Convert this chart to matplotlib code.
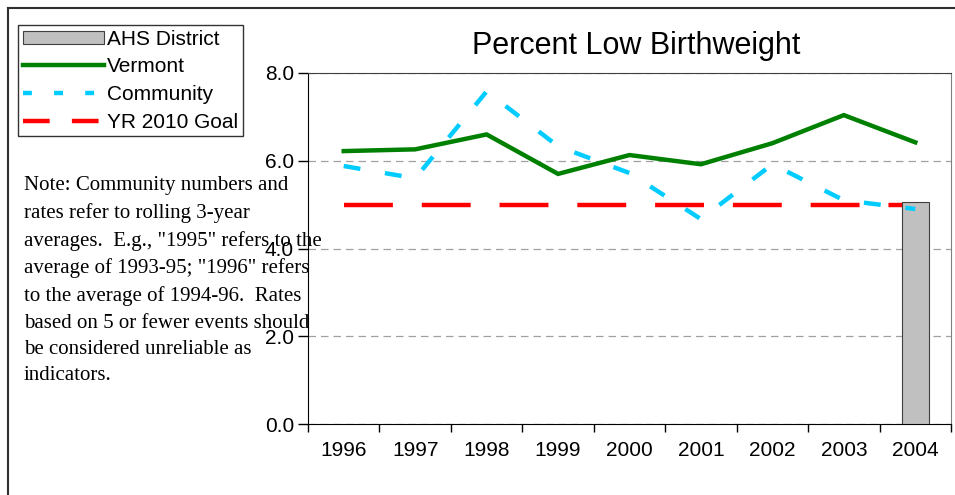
import numpy as np
import matplotlib
matplotlib.use("Agg")
import matplotlib.pyplot as plt
from matplotlib.patches import Patch
from matplotlib.lines import Line2D

plt.rcParams['font.family'] = ['Liberation Sans', 'DejaVu Sans']

years = ["1996", "1997", "1998", "1999", "2000", "2001", "2002", "2003", "2004"]
ahs_district = [np.nan, np.nan, np.nan, np.nan, np.nan, np.nan, np.nan, np.nan, 5.05]
vermont = [6.22, 6.26, 6.6, 5.7, 6.13, 5.92, 6.4, 7.04, 6.42]
community = [5.88, 5.6, 7.58, 6.33, 5.72, 4.67, 5.92, 5.1, 4.9]
goal = [5.0, 5.0, 5.0, 5.0, 5.0, 5.0, 5.0, 5.0, 5.0]

note = ('Note: Community numbers and\nrates refer to rolling 3-year\n'
        'averages.  E.g., "1995" refers to the\naverage of 1993-95; "1996" refers\n'
        'to the average of 1994-96.  Rates\nbased on 5 or fewer events should\n'
        'be considered unreliable as\nindicators.')

fig = plt.figure(figsize=(9.55, 4.95), dpi=100)
ax = fig.add_axes([308/955, 71/495, 643/955, 351/495])
x = np.arange(len(years))

ax.plot(x, goal, color='#FF0000', lw=3.2, dashes=(11, 6.5), zorder=2, solid_capstyle='butt')
ax.bar(x, ahs_district, width=0.38, color='#C0C0C0', edgecolor='#404040', lw=0.8, zorder=3)
ax.plot(x, vermont, color='#008000', lw=3.2, zorder=4, solid_joinstyle='miter')
ax.plot(x, community, color='#00CCFF', lw=3.2, dashes=(3.8, 5.6), zorder=5)

ax.set_xlim(-0.5, len(years) - 0.5)
ax.set_ylim(0, 8)
ax.set_yticks([0, 2, 4, 6, 8])
ax.set_yticklabels(['0.0', '2.0', '4.0', '6.0', '8.0'], fontsize=15)
ax.yaxis.grid(True, color='#A0A0A0', ls=(0, (6, 4)), lw=0.9)
ax.set_axisbelow(True)
ax.tick_params(axis='y', length=7, width=1, direction='out', pad=3)

ax.set_xticks(np.arange(-0.5, len(years), 1.0))
ax.set_xticklabels([])
ax.set_xticks(x, minor=True)
ax.set_xticklabels(years, minor=True, fontsize=15)
ax.tick_params(axis='x', which='major', length=6, width=1, direction='out')
ax.tick_params(axis='x', which='minor', length=0, pad=12)

ax.spines['top'].set_color('#404040')
ax.spines['right'].set_color('#808080')
ax.spines['left'].set_color('black')
ax.spines['bottom'].set_color('black')

fig.text(636/955, 1 - 46/495, 'Percent Low Birthweight', fontsize=22, ha='center', va='center')

fig.text(24/955, 1 - 176/495, note, family=['Liberation Serif', 'DejaVu Serif'],
         fontsize=15, ha='left', va='top', linespacing=1.53)

# outer frame of the chart area
fig.add_artist(Line2D([8/955, 8/955], [0, 1 - 8/495], color='#303030', lw=1.5))
fig.add_artist(Line2D([8/955, 1], [1 - 8/495, 1 - 8/495], color='#303030', lw=1.5))

handles = [
    Patch(facecolor='#C0C0C0', edgecolor='#404040', lw=0.8),
    Line2D([], [], color='#008000', lw=3.2),
    Line2D([], [], color='#00CCFF', lw=3.2, dashes=(2, 5)),
    Line2D([], [], color='#FF0000', lw=3.2, dashes=(6, 5)),
]
labels = ['AHS District', 'Vermont', 'Community', 'YR 2010 Goal']
leg = fig.legend(handles, labels, loc='upper left', bbox_to_anchor=(18/955, 1 - 25/495),
                 borderaxespad=0, fontsize=15, frameon=True, fancybox=False,
                 edgecolor='black', handlelength=3.9, handletextpad=0.15,
                 labelspacing=0.42, borderpad=0.22, handleheight=0.6)
leg.get_frame().set_linewidth(1.0)

fig.savefig('out.png', dpi=100)
